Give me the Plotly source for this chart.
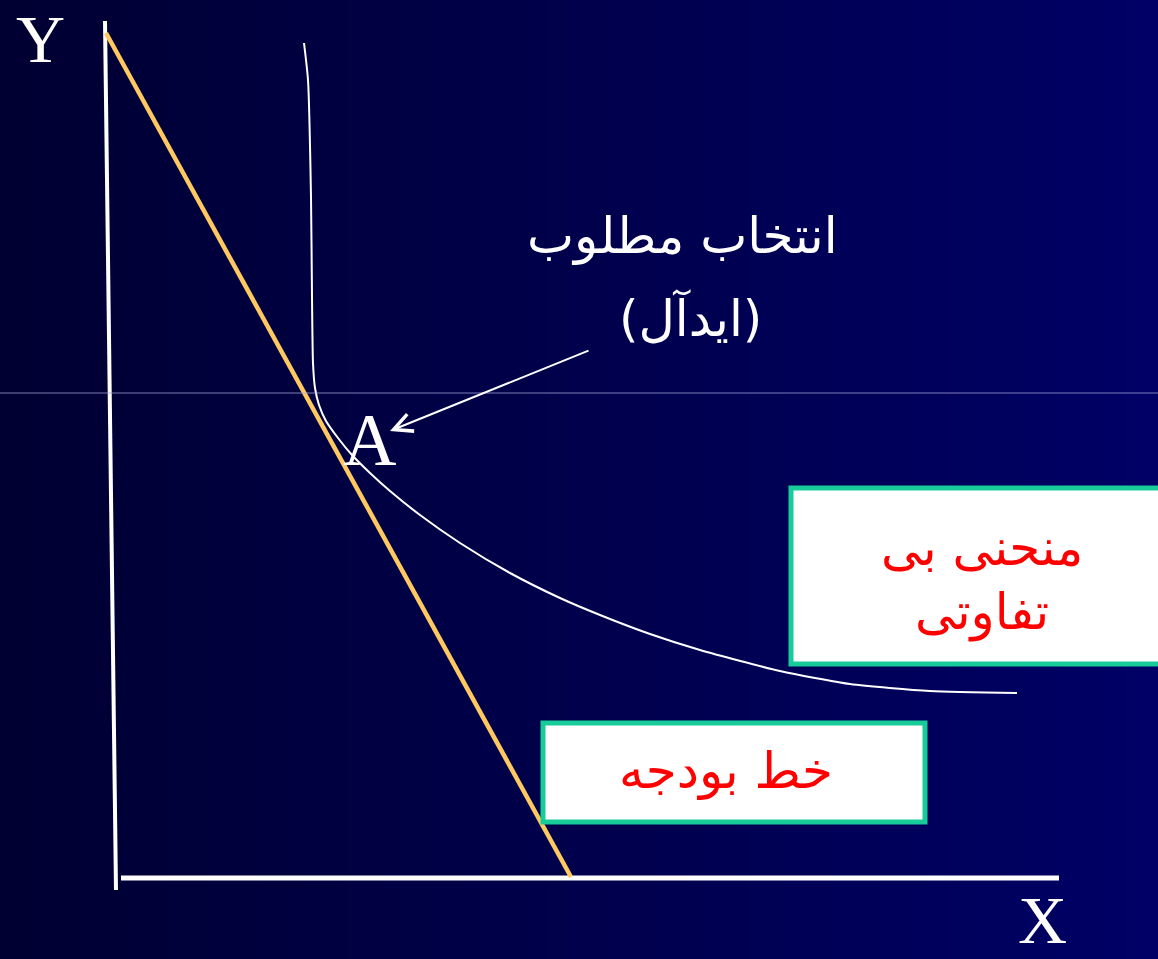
import plotly.graph_objects as go

# ---- data (diagram coordinates: origin at the axes corner) ----
y_axis_x = [-0.11, 0.00]
y_axis_y = [8.57, -0.12]
x_axis_x = [0.05, 9.43]
x_axis_y = [0.0, 0.0]

budget_x = [-0.10, 4.55]
budget_y = [8.45, 0.01]

indiff_x = [1.88, 1.92, 1.95, 1.96, 1.97, 1.99, 2.03, 2.10, 2.22, 2.36, 2.54, 2.74,
            3.04, 3.44, 3.94, 4.44, 4.84, 5.34, 5.84, 6.64, 7.34, 8.14, 9.01]
indiff_y = [8.35, 7.98, 6.81, 5.81, 5.15, 4.90, 4.73, 4.57, 4.40, 4.23, 4.05, 3.87,
            3.63, 3.35, 3.05, 2.80, 2.63, 2.44, 2.28, 2.07, 1.94, 1.87, 1.85]

point_A = (2.53, 4.38)
arrow_tail = (4.74, 5.28)
arrow_head = (2.74, 4.47)

label_choice_1 = "انتخاب مطلوب"
label_choice_2 = "(ایدآل)"
label_indiff_1 = "منحنی بی"
label_indiff_2 = "تفاوتی"
label_budget = "خط بودجه"

X_RANGE = [-1.16, 10.42]
Y_RANGE = [-0.81, 8.78]

fig = go.Figure()

# gradient background
fig.add_trace(go.Heatmap(
    x=X_RANGE, y=Y_RANGE, z=[[0, 1], [0, 1]],
    colorscale=[[0, "rgb(0,0,50)"], [1, "rgb(0,0,102)"]],
    zsmooth="best", showscale=False, hoverinfo="skip"))

# axes
fig.add_trace(go.Scatter(x=y_axis_x, y=y_axis_y, mode="lines",
                         line=dict(color="white", width=4), hoverinfo="skip"))
fig.add_trace(go.Scatter(x=x_axis_x, y=x_axis_y, mode="lines",
                         line=dict(color="white", width=5), hoverinfo="skip"))

# indifference curve
fig.add_trace(go.Scatter(x=indiff_x, y=indiff_y, mode="lines",
                         line=dict(color="white", width=2, shape="spline", smoothing=0.6),
                         hoverinfo="skip"))
# budget line
fig.add_trace(go.Scatter(x=budget_x, y=budget_y, mode="lines",
                         line=dict(color="#FFC861", width=4.5), hoverinfo="skip"))

shapes = [
    # thin horizontal guide line
    dict(type="line", xref="paper", x0=0, x1=1, yref="y", y0=4.85, y1=4.85,
         line=dict(color="rgba(170,170,220,0.75)", width=1), layer="above"),
    # indifference curve label box
    dict(type="rect", x0=6.75, x1=10.6, y0=2.14, y1=3.90,
         fillcolor="white", line=dict(color="#17CC99", width=5), layer="above"),
    # budget line label box
    dict(type="rect", x0=4.27, x1=8.09, y0=0.56, y1=1.55,
         fillcolor="white", line=dict(color="#17CC99", width=5), layer="above"),
]

serif = "Liberation Serif, Times New Roman, serif"
arab = "DejaVu Sans, sans-serif"
annotations = [
    dict(x=-0.76, y=1, yref="paper", yanchor="top", text="Y", showarrow=False,
         borderpad=0, font=dict(family=serif, size=68, color="white")),
    dict(x=9.26, y=0, yref="paper", yanchor="bottom", text="X", showarrow=False,
         borderpad=0, font=dict(family=serif, size=68, color="white")),
    dict(x=point_A[0], y=point_A[1], text="A", showarrow=False,
         font=dict(family=serif, size=74, color="white")),
    dict(x=arrow_head[0], y=arrow_head[1], ax=arrow_tail[0], ay=arrow_tail[1],
         axref="x", ayref="y", xref="x", yref="y", text="", showarrow=True,
         arrowhead=5, arrowsize=1.8, arrowwidth=2, arrowcolor="white"),
    dict(x=5.66, y=6.42, text=label_choice_1, showarrow=False,
         font=dict(family=arab, size=50, color="white")),
    dict(x=5.74, y=5.60, text=label_choice_2, showarrow=False,
         font=dict(family=arab, size=50, color="white")),
    dict(x=8.66, y=3.30, text=label_indiff_1, showarrow=False,
         font=dict(family=arab, size=50, color="red")),
    dict(x=8.66, y=2.66, text=label_indiff_2, showarrow=False,
         font=dict(family=arab, size=50, color="red")),
    dict(x=6.10, y=1.07, text=label_budget, showarrow=False,
         font=dict(family=arab, size=50, color="red")),
]

fig.update_layout(
    width=1158, height=959,
    margin=dict(l=0, r=0, t=0, b=0),
    paper_bgcolor="rgb(0,0,70)", plot_bgcolor="rgb(0,0,70)",
    showlegend=False,
    xaxis=dict(range=X_RANGE, visible=False, fixedrange=True),
    yaxis=dict(range=Y_RANGE, visible=False, fixedrange=True),
    shapes=shapes, annotations=annotations,
)

fig.write_html("out.html", config={"displayModeBar": False},
               post_script="document.body.style.margin='0';document.body.style.overflow='hidden';")
